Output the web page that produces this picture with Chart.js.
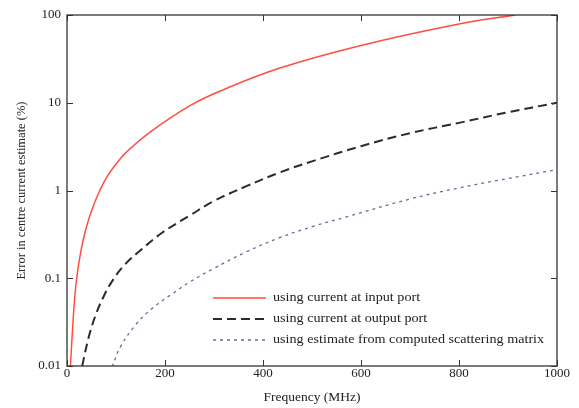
<!DOCTYPE html>
<html>
<head>
<meta charset="utf-8">
<script src="https://cdn.jsdelivr.net/npm/chart.js@4.4.0/dist/chart.umd.min.js"></script>
<style>
    html, body { margin: 0; padding: 0; background: #fff; }
    #wrap { width: 579px; height: 408px; }
</style>
</head>
<body>
<div id="wrap"><canvas id="errChart" width="579" height="408"></canvas></div>
<script>
// values (frequency in MHz, error in %)
const inputFreq = [7, 10.8, 14.3, 19.8, 28, 38.2, 51.6, 67, 82, 103, 120, 169, 251, 314, 436, 600, 800, 915];
const inputErr = [0.01, 0.0234, 0.047, 0.1, 0.2, 0.36, 0.62, 1, 1.45, 2.1, 2.7, 4.6, 9.25, 13.7, 25, 45, 79, 100];

const outputFreq = [31, 44, 57.7, 74.8, 95, 119, 153, 194, 251, 298, 366, 436, 500, 600, 700, 800, 900, 1000];
const outputErr = [0.01, 0.021, 0.037, 0.062, 0.098, 0.145, 0.215, 0.33, 0.52, 0.75, 1.12, 1.62, 2.15, 3.2, 4.5, 5.9, 7.8, 10];

const scatterFreq = [92, 109, 139, 173, 214, 251, 298, 366, 434, 502, 570, 700, 800, 900, 1000];
const scatterErr = [0.0098, 0.0165, 0.029, 0.045, 0.066, 0.091, 0.128, 0.2, 0.29, 0.39, 0.5, 0.8, 1.07, 1.37, 1.73];

const xTicks = [0, 200, 400, 600, 800, 1000];
const yTicks = [0.01, 0.1, 1, 10, 100];

const seriesLabels = [
    'using current at input port',
    'using current at output port',
    'using estimate from computed scattering matrix'
];

const FONT = "'Liberation Serif', 'DejaVu Serif', serif";

function toPoints(xs, ys) {
    return xs.map((x, i) => ({ x: x, y: ys[i] }));
}

// frame, inward ticks on all four sides, and the legend inside the plot
const framePlugin = {
    id: 'frame',
    afterDraw(chart) {
        const ctx = chart.ctx;
        const a = chart.chartArea;
        const xs = chart.scales.x;
        const ys = chart.scales.y;
        ctx.save();
        ctx.strokeStyle = '#333';
        ctx.lineWidth = 1.3;
        ctx.strokeRect(a.left, a.top, a.right - a.left, a.bottom - a.top);

        ctx.lineWidth = 1;
        const len = 6;
        xTicks.forEach(v => {
            const px = Math.round(xs.getPixelForValue(v)) + 0.5;
            ctx.beginPath();
            ctx.moveTo(px, a.bottom); ctx.lineTo(px, a.bottom - len);
            ctx.moveTo(px, a.top); ctx.lineTo(px, a.top + len);
            ctx.stroke();
        });
        yTicks.forEach(v => {
            const py = Math.round(ys.getPixelForValue(v)) + 0.5;
            ctx.beginPath();
            ctx.moveTo(a.left, py); ctx.lineTo(a.left + len, py);
            ctx.moveTo(a.right, py); ctx.lineTo(a.right - len, py);
            ctx.stroke();
        });

        // legend
        const rows = [298, 319, 340];
        chart.data.datasets.forEach((ds, i) => {
            const y = rows[i];
            ctx.strokeStyle = ds.borderColor;
            ctx.lineWidth = ds.borderWidth;
            ctx.setLineDash(ds.borderDash || []);
            ctx.beginPath();
            ctx.moveTo(213, y);
            ctx.lineTo(266, y);
            ctx.stroke();
            ctx.setLineDash([]);

            ctx.save();
            ctx.translate(273, y);
            ctx.scale(1.09, 1);
            ctx.font = '13px ' + FONT;
            ctx.textBaseline = 'middle';
            ctx.fillStyle = '#222';
            ctx.fillText(ds.label, 0, 0);
            ctx.restore();
        });
        ctx.restore();
    }
};

new Chart(document.getElementById('errChart').getContext('2d'), {
    type: 'line',
    data: {
        datasets: [
            {
                label: seriesLabels[0],
                data: toPoints(inputFreq, inputErr),
                borderColor: '#ff4d3f',
                borderWidth: 1.5,
                pointRadius: 0,
                tension: 0.4
            },
            {
                label: seriesLabels[1],
                data: toPoints(outputFreq, outputErr),
                borderColor: '#2b2b2b',
                borderWidth: 2,
                borderDash: [9, 5],
                pointRadius: 0,
                tension: 0.4
            },
            {
                label: seriesLabels[2],
                data: toPoints(scatterFreq, scatterErr),
                borderColor: '#6d6a9a',
                borderWidth: 1.3,
                borderDash: [3, 4],
                pointRadius: 0,
                tension: 0.4
            }
        ]
    },
    options: {
        responsive: false,
        animation: false,
        layout: { padding: { left: 0, right: 22, top: 15, bottom: 0 } },
        plugins: {
            legend: { display: false },
            tooltip: { enabled: false }
        },
        scales: {
            x: {
                type: 'linear',
                min: 0,
                max: 1000,
                afterBuildTicks: scale => { scale.ticks = xTicks.map(v => ({ value: v })); },
                afterFit: scale => { scale.height = 42; },
                grid: { display: false, drawTicks: false },
                border: { display: false },
                ticks: {
                    color: '#222',
                    padding: 0,
                    maxRotation: 0,
                    font: { family: FONT, size: 13 },
                    callback: v => String(v)
                },
                title: {
                    display: true,
                    text: 'Frequency (MHz)',
                    color: '#222',
                    padding: { top: 4, bottom: 2 },
                    font: { family: FONT, size: 13.5 }
                }
            },
            y: {
                type: 'logarithmic',
                min: 0.01,
                max: 100,
                afterBuildTicks: scale => { scale.ticks = yTicks.map(v => ({ value: v })); },
                afterFit: scale => { scale.width = 67; },
                grid: { display: false, drawTicks: false },
                border: { display: false },
                ticks: {
                    color: '#222',
                    padding: 6,
                    font: { family: FONT, size: 13 },
                    callback: v => String(v)
                },
                title: {
                    display: true,
                    text: 'Error in centre current estimate (%)',
                    color: '#222',
                    padding: { top: 14.5, bottom: 0 },
                    font: { family: FONT, size: 12.5 }
                }
            }
        }
    },
    plugins: [framePlugin]
});
</script>
</body>
</html>
